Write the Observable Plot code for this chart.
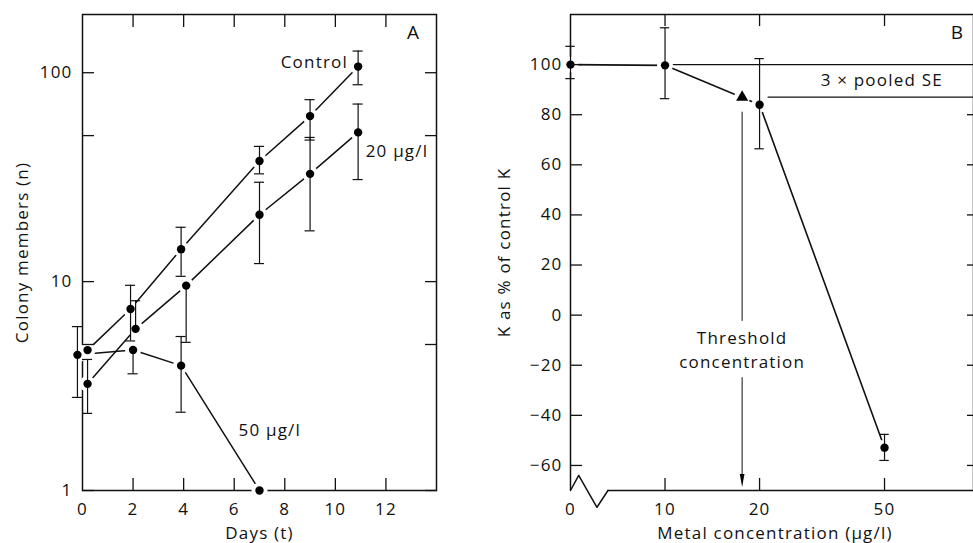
<!DOCTYPE html>
<html><head><meta charset="utf-8">
<script src="https://cdn.jsdelivr.net/npm/d3@7"></script>
<script src="https://cdn.jsdelivr.net/npm/@observablehq/plot@0.6"></script>
<style>
body{margin:0;background:#fff;}
#wrap{display:flex;width:973px;height:543px;overflow:hidden;}
</style></head><body><div id="wrap"></div>
<script>
// ---------- Panel A data ----------
const daysControl = [0.2, 1.9, 3.9, 7.0, 9.0, 10.9];
const control     = [4.7, 7.4, 14.3, 37.8, 62, 107];
const controlLo   = [null, 5.2, 10.6, 32.8, 47.6, 87.6];
const controlHi   = [null, 9.6, 18.2, 44.4, 74.3, 127];
const days20      = [0.2, 2.1, 4.1, 7.0, 9.0, 10.9];
const metal20     = [3.24, 5.94, 9.57, 20.9, 32.8, 51.8];
const metal20Lo   = [2.34, null, 5.12, 12.2, 17.5, 30.8];
const metal20Hi   = [4.24, 8.1, null, 29.9, 49, 70.8];
const days50      = [-0.2, 2.0, 3.9, 7.0];
const metal50     = [4.46, 4.71, 3.96, 1.0];
const metal50Lo   = [2.79, 3.62, 2.37, null];
const metal50Hi   = [6.09, null, 5.46, null];
const dayTicks    = [0, 2, 4, 6, 8, 10, 12];
const countLabels = [1, 10, 100];
const countTicks  = [1, 5, 10, 50, 100];
const seriesNames = ["Control", "20 μg/l", "50 μg/l"];

// ---------- Panel B data ----------
const conc      = [0, 10, 20, 50];
const kPercent  = [100, 99.7, 84, -52.9];
const kLo       = [94.4, 86.4, 66.4, -58];
const kHi       = [107.3, 114.7, 102.4, -47.6];
const threshold = [{c: 17.6, k: 87}];
const seLevels  = [100, 87];
const seStarts  = [10, 21.3];
const kTicks    = [-60, -40, -20, 0, 20, 40, 60, 80, 100];
const concTicks = [0, 10, 20, 50];
const zeroPos   = 5;              // axis break: 0 drawn where 5 would sit on the log scale
const xb = c => (c === 0 ? zeroPos : c);
const breakX = [5, 5.31, 6.07, 6.58];
const breakY = [-70, -64, -76.7, -70];

const FONT = "font-family:'Open Sans',sans-serif;font-size:17px;letter-spacing:1.2px;color:#111;background:#fff;";

function rows(name, xs, ys, lo, hi) {
  return xs.map((x, i) => ({series: name, x, y: ys[i], lo: lo[i], hi: hi[i]}));
}
const rowsA = [
  ...rows(seriesNames[0], daysControl, control, controlLo, controlHi),
  ...rows(seriesNames[1], days20, metal20, metal20Lo, metal20Hi),
  ...rows(seriesNames[2], days50, metal50, metal50Lo, metal50Hi)
];
const upA = rowsA.filter(d => d.hi != null);
const loA = rowsA.filter(d => d.lo != null);

const capA = 0.2;
const plotA = Plot.plot({
  width: 490, height: 543,
  marginLeft: 82, marginRight: 54, marginTop: 14, marginBottom: 53,
  style: FONT,
  x: {domain: [0, 14]},
  y: {type: "log", domain: [1, 190]},
  marks: [
    Plot.frame({strokeWidth: 1.5}),
    Plot.line(rowsA, {x: "x", y: "y", z: "series", strokeWidth: 1.5}),
    Plot.dot(rowsA, {x: "x", y: "y", r: 8, fill: "white"}),
    Plot.ruleX(upA, {x: "x", y1: "y", y2: "hi", strokeWidth: 1.2}),
    Plot.ruleY(upA, {x1: d => d.x - capA, x2: d => d.x + capA, y: "hi", strokeWidth: 1.2}),
    Plot.ruleX(loA, {x: "x", y1: "y", y2: "lo", strokeWidth: 1.2}),
    Plot.ruleY(loA, {x1: d => d.x - capA, x2: d => d.x + capA, y: "lo", strokeWidth: 1.2}),
    Plot.dot(rowsA, {x: "x", y: "y", r: 4.2, fill: "black"}),
    Plot.axisY({ticks: countTicks, anchor: "left", tickSize: -12, fill: "none", label: null, strokeWidth: 1.3}),
    Plot.axisY({ticks: countTicks, anchor: "right", tickSize: -12, fill: "none", label: null, strokeWidth: 1.3}),
    Plot.axisY({ticks: countLabels, anchor: "left", tickSize: 0, tickPadding: 10, tickFormat: d => String(d), label: null}),
    Plot.axisX({ticks: dayTicks.slice(1), anchor: "bottom", tickSize: -12, fill: "none", label: null, strokeWidth: 1.3}),
    Plot.axisX({ticks: dayTicks.slice(1), anchor: "top", tickSize: -12, fill: "none", label: null, strokeWidth: 1.3}),
    Plot.axisX({ticks: dayTicks, anchor: "bottom", tickSize: 0, tickPadding: 12, label: null}),
    Plot.text(["Colony members (n)"], {frameAnchor: "left", dx: -60, rotate: -90, textAnchor: "middle", lineAnchor: "middle", fontSize: 17}),
    Plot.text(["Days (t)"], {frameAnchor: "bottom", dy: 43, textAnchor: "middle", lineAnchor: "middle", fontSize: 17}),
    Plot.text(["A"], {frameAnchor: "top-right", dx: -23, dy: 18, textAnchor: "middle", lineAnchor: "middle", fontSize: 19}),
    Plot.text([seriesNames[0]], {x: 10.5, y: 112, textAnchor: "end", fontSize: 17}),
    Plot.text([seriesNames[1]], {x: 11.2, y: 42, textAnchor: "start", fontSize: 17}),
    Plot.text([seriesNames[2]], {x: 6.17, y: 1.94, textAnchor: "start", fontSize: 17})
  ]
});

// ---------- Panel B ----------
const rowsB = conc.map((c, i) => ({c, k: kPercent[i], lo: kLo[i], hi: kHi[i]}));
const capB = 1.035;
const arrowHead = {
  draw(ctx, size) {
    const r = Math.sqrt(size / Math.PI);
    ctx.moveTo(0, r * 1.5);
    ctx.lineTo(-r * 0.55, -r * 1.5);
    ctx.lineTo(r * 0.55, -r * 1.5);
    ctx.closePath();
  }
};
const plotB = Plot.plot({
  width: 483, height: 543,
  marginLeft: 80, marginRight: 0, marginTop: 14, marginBottom: 53,
  style: FONT,
  x: {type: "log", domain: [5, 96]},
  y: {domain: [-70, 120]},
  marks: [
    Plot.ruleX([5], {strokeWidth: 1.5}),
    Plot.ruleX([96], {strokeWidth: 1.5}),
    Plot.ruleY([120], {strokeWidth: 1.5}),
    Plot.ruleY([-70], {x1: breakX[breakX.length - 1], x2: 96, strokeWidth: 1.5}),
    Plot.line(breakX.map((x, i) => ({x, y: breakY[i]})), {x: "x", y: "y", strokeWidth: 1.5}),
    Plot.ruleY(seLevels, {y: d => d, x1: (d, i) => seStarts[i], x2: 96, strokeWidth: 1.3}),
    Plot.line(rowsB, {x: d => xb(d.c), y: "k", strokeWidth: 1.6}),
    Plot.dot(rowsB, {x: d => xb(d.c), y: "k", r: 8, fill: "white"}),
    Plot.dot(threshold, {x: "c", y: "k", r: 8, fill: "white"}),
    Plot.ruleX(rowsB, {x: d => xb(d.c), y1: "lo", y2: "hi", strokeWidth: 1.2}),
    Plot.ruleY(rowsB, {x1: d => xb(d.c) / capB, x2: d => xb(d.c) * capB, y: "hi", strokeWidth: 1.2}),
    Plot.ruleY(rowsB, {x1: d => xb(d.c) / capB, x2: d => xb(d.c) * capB, y: "lo", strokeWidth: 1.2}),
    Plot.dot(rowsB, {x: d => xb(d.c), y: "k", r: 4.2, fill: "black"}),
    Plot.dot(threshold, {x: "c", y: "k", r: 4.5, symbol: "triangle", fill: "black"}),
    Plot.ruleX(threshold, {x: "c", y1: 81, y2: -2.5, strokeWidth: 1}),
    Plot.ruleX(threshold, {x: "c", y1: -25, y2: -66, strokeWidth: 1}),
    Plot.dot(threshold, {x: "c", y: -66, r: 4.3, symbol: arrowHead, fill: "black"}),
    Plot.text(threshold, {x: "c", y: -13.2, text: () => "Threshold\nconcentration", lineHeight: 1.42, fontSize: 17}),
    Plot.text(["3 × pooled SE"], {x: 49, y: 93.5, fontSize: 17}),
    Plot.axisY({ticks: kTicks, anchor: "left", tickSize: -12, fill: "none", label: null, strokeWidth: 1.3}),
    Plot.axisY({ticks: kTicks.filter(d => d < 100), anchor: "right", tickSize: -7, fill: "none", label: null, strokeWidth: 1.3}),
    Plot.axisY({ticks: kTicks, anchor: "left", tickSize: 0, tickPadding: 8, label: null}),
    Plot.axisX({ticks: concTicks.slice(1), anchor: "bottom", tickSize: -12, fill: "none", label: null, strokeWidth: 1.3}),
    Plot.axisX({ticks: concTicks.slice(1), anchor: "top", tickSize: -11, fill: "none", label: null, strokeWidth: 1.3}),
    Plot.axisX({ticks: concTicks.map(xb), anchor: "bottom", tickSize: 0, tickPadding: 12, tickFormat: d => (d === zeroPos ? "0" : String(d)), label: null}),
    Plot.text(["K as % of control K"], {frameAnchor: "left", dx: -66, rotate: -90, textAnchor: "middle", lineAnchor: "middle", fontSize: 17}),
    Plot.text(["Metal concentration (μg/l)"], {frameAnchor: "bottom", dy: 43, dx: 3, textAnchor: "middle", lineAnchor: "middle", fontSize: 17}),
    Plot.text(["B"], {frameAnchor: "top-right", dx: -16, dy: 18, textAnchor: "middle", lineAnchor: "middle", fontSize: 19})
  ]
});

const wrap = document.getElementById("wrap");
wrap.appendChild(plotA);
wrap.appendChild(plotB);
</script>
</body></html>
